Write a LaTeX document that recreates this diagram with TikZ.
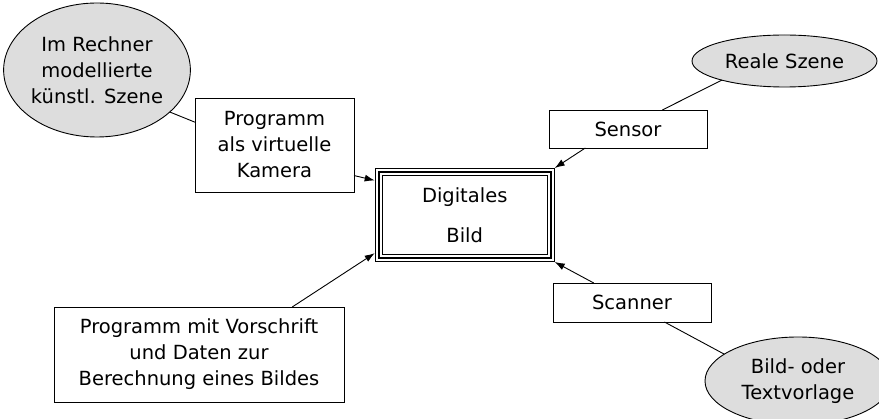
\documentclass[tikz,border=0pt]{standalone}
\usepackage{fontspec}
\setmainfont{DejaVu Sans}
\usepackage{xcolor}
\definecolor{szenegray}{RGB}{221,221,221}
\usepackage{tikz}
\usetikzlibrary{shapes.geometric,arrows.meta,positioning}

\begin{document}
\begin{tikzpicture}[x=1pt,y=1pt,line width=0.9pt,font=\fontsize{19.5}{26}\selectfont]
  \tikzstyle{quelle}=[ellipse,draw,fill=szenegray,inner sep=0pt,outer sep=0pt,align=center]
  \tikzstyle{geraet}=[rectangle,draw,inner sep=0pt,outer sep=0pt,align=center]
  \tikzstyle{bildbox}=[rectangle,draw,line width=2pt,minimum width=172pt,minimum height=86pt,outer sep=4pt,align=center,preaction={draw,line width=0.8pt,double,double distance=6.2pt}]
  \tikzstyle{pfeil}=[-{Latex[length=10pt,width=7pt]}]

  \useasboundingbox (0,0) rectangle (879,-419);

  \node[bildbox] (bild) at (464.7,-215) {Digitales\\[14pt]Bild};

  \node[quelle,minimum width=178pt,minimum height=134pt] (szene1) at (97,-70) {Im Rechner\\modellierte\\k\"unstl. Szene};
  \node[geraet,minimum width=159pt,minimum height=94pt] (kamera) at (274.5,-145) {Programm\\als virtuelle\\Kamera};
  \node[quelle,minimum width=185pt,minimum height=52pt] (reale) at (784.5,-61) {Reale Szene};
  \node[geraet,minimum width=158pt,minimum height=38pt] (sensor) at (628,-129) {Sensor};
  \node[geraet,minimum width=158pt,minimum height=39pt] (scanner) at (632,-302.5) {Scanner};
  \node[quelle,minimum width=186pt,minimum height=88pt] (vorlage) at (798,-381) {Bild- oder\\Textvorlage};
  \node[geraet,minimum width=290pt,minimum height=95pt] (rechnen) at (199,-354.5) {Programm mit Vorschrift\\und Daten zur\\Berechnung eines Bildes};

  \draw (szene1.330) -- (kamera.164);
  \draw[pfeil] (kamera.339) -- (bild.159);
  \draw (reale.197) -- (sensor.29);
  \draw[pfeil] (sensor.204) -- (bild.north east);
  \draw[pfeil] (scanner.153) -- (bild.south east);
  \draw (scanner.329) -- (vorlage.160);
  \draw[pfeil] (rechnen.27) -- (bild.203);
\end{tikzpicture}
\end{document}
